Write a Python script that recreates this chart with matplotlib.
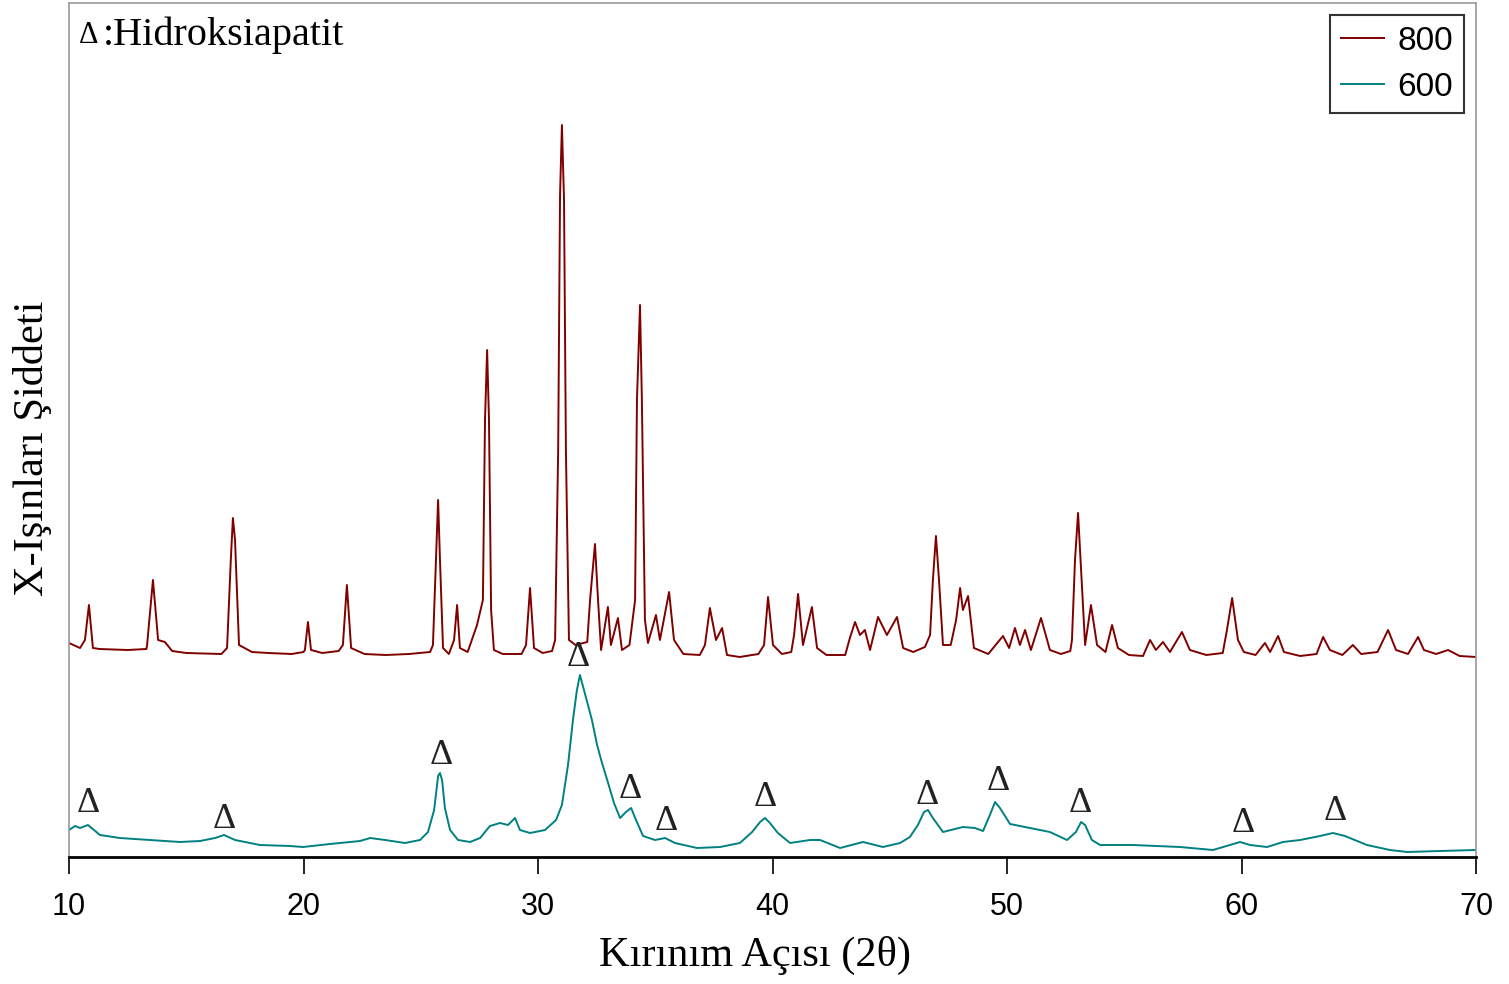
import matplotlib
matplotlib.use('Agg')
import matplotlib.pyplot as plt

# 800 C pattern (2theta, relative intensity)
tt_800 = [10.00, 10.47, 10.68, 10.85, 11.02, 11.3, 12.5, 13.3, 13.33, 13.58, 13.8, 14.09, 14.4,
          15.0, 16.5, 16.74, 16.9, 16.99, 17.08, 17.25, 17.8, 18.5, 19.5, 20.0,
          20.06, 20.19, 20.32, 20.8, 21.5, 21.68, 21.85, 22.03, 22.6, 23.5, 24.5, 25.4,
          25.52, 25.65, 25.74, 25.82, 25.95, 26.2, 26.42, 26.55, 26.67, 27.0, 27.4,
          27.65, 27.74, 27.83, 27.91, 28.0, 28.12, 28.5, 29.3, 29.49, 29.66, 29.83,
          30.2, 30.6, 30.73, 30.86, 30.94, 31.02, 31.11, 31.19, 31.32, 31.6, 32.1,
          32.22, 32.43, 32.56, 32.69, 32.98, 33.11, 33.41, 33.58, 33.9,
          34.14, 34.22, 34.35, 34.43, 34.56, 34.69, 35.03, 35.2, 35.59, 35.8, 36.2, 36.9,
          37.12, 37.33, 37.59, 37.85, 38.06, 38.6, 39.4, 39.64, 39.81, 40.02, 40.4, 40.8,
          40.92, 41.09, 41.3, 41.68, 41.9, 42.3, 43.1, 43.3, 43.52, 43.73, 43.94, 44.16,
          44.5, 44.88, 45.31, 45.57, 46.0, 46.5, 46.72, 46.84, 46.97, 47.1, 47.27, 47.6,
          47.83, 48.0, 48.12, 48.34, 48.59, 49.2, 49.83, 50.09, 50.34, 50.55, 50.77, 51.02,
          51.45, 51.83, 52.3, 52.7, 52.77, 52.9, 53.03, 53.16, 53.33, 53.58, 53.84, 54.2,
          54.48, 54.73, 55.2, 55.8, 56.1, 56.35, 56.65, 56.95, 57.46, 57.8, 58.5, 59.2,
          59.38, 59.6, 59.85, 60.1, 60.6, 61.0, 61.22, 61.56, 61.81, 62.5, 63.2, 63.48,
          63.77, 64.3, 64.75, 65.1, 65.8, 66.25, 66.59, 67.1, 67.53, 67.78, 68.3, 68.81,
          69.3, 70.0]
int_800 = [214, 209, 217, 252, 209, 208, 207, 208, 212, 277, 217, 215, 206,
           204, 203, 209, 297, 339, 317, 212, 205, 204, 203, 205,
           207, 235, 207, 204, 206, 212, 272, 209, 203, 202, 203, 205,
           212, 297, 357, 297, 209, 203, 217, 252, 209, 205, 232,
           257, 437, 507, 437, 247, 207, 203, 203, 212, 269, 209,
           204, 206, 217, 407, 662, 732, 657, 407, 217, 212, 215,
           257, 313, 257, 207, 250, 212, 239, 207, 212,
           257, 457, 552, 457, 237, 214, 242, 217, 265, 217, 203, 202,
           212, 249, 217, 229, 202, 200, 203, 212, 260, 212, 203, 205,
           222, 263, 212, 250, 209, 202, 202, 219, 235, 222, 227, 207,
           240, 222, 240, 209, 205, 210, 222, 277, 321, 277, 212, 212,
           237, 269, 247, 261, 209, 203, 221, 209, 229, 212, 227, 207,
           239, 207, 203, 206, 217, 297, 344, 287, 212, 252, 212, 205,
           232, 209, 202, 201, 217, 207, 215, 205, 225, 207, 202, 204,
           227, 259, 217, 205, 202, 214, 205, 221, 205, 201, 203, 220,
           207, 202, 212, 203, 205, 227, 207, 203, 220, 207, 203, 207,
           201, 200]

# 600 C pattern
tt_600 = [10.00, 10.26, 10.47, 10.81, 11.32, 12.17, 13.45, 14.73, 15.59, 16.23, 16.61, 17.08,
          18.14, 19.42, 19.98, 21.13, 22.41, 22.84, 23.48, 24.33, 24.97, 25.31, 25.57,
          25.74, 25.82, 25.91, 26.03, 26.25, 26.59, 27.10, 27.53, 27.95, 28.38, 28.72,
          29.02, 29.23, 29.66, 30.30, 30.77, 31.02, 31.28, 31.49, 31.66, 31.79, 31.96,
          32.13, 32.30, 32.52, 32.73, 32.99, 33.24, 33.50, 33.75, 33.97, 34.18, 34.48,
          34.99, 35.42, 35.84, 36.78, 37.76, 38.61, 39.13, 39.47, 39.68, 39.89, 40.23,
          40.75, 41.60, 42.03, 42.88, 43.86, 44.71, 45.44, 45.86, 46.20, 46.46, 46.63,
          46.84, 47.27, 48.12, 48.63, 48.98, 49.27, 49.49, 49.70, 50.13, 50.98, 51.83,
          52.56, 52.94, 53.16, 53.33, 53.62, 53.97, 55.37, 57.38, 58.78, 59.51, 59.94,
          60.36, 61.09, 61.77, 62.50, 63.35, 63.90, 64.41, 65.35, 66.33, 67.06, 68.47, 70.00]
int_600 = [27, 31, 29, 32, 22, 19, 17, 15, 16, 19, 22, 17,
           12, 11, 10, 13, 16, 19, 17, 14, 17, 25, 47,
           81, 84, 77, 49, 27, 17, 15, 19, 31, 34, 32,
           39, 27, 24, 27, 37, 52, 92, 137, 167, 182, 167,
           152, 137, 112, 94, 74, 54, 39, 45, 49, 37, 21,
           17, 19, 14, 9, 10, 14, 25, 35, 39, 34, 24,
           14, 17, 17, 9, 15, 10, 14, 20, 32, 45, 47,
           39, 25, 30, 29, 26, 42, 55, 49, 33, 29, 25,
           17, 25, 35, 32, 17, 12, 12, 10, 7, 12, 15,
           12, 10, 15, 17, 21, 24, 21, 12, 7, 5, 6, 7]

# hydroxyapatite markers
hap_tt = [10.81, 16.61, 25.86, 31.71, 33.92, 35.46, 39.68, 46.59, 49.62, 53.11, 60.06, 63.99]
hap_int = [54, 37, 102, 199, 67, 35, 60, 62, 75, 54, 34, 45]

series_labels = ['800', '600']
series_colors = ['#800000', '#008080']
xticks = [10, 20, 30, 40, 50, 60, 70]

serif = ['Liberation Serif', 'DejaVu Serif']
sans = ['Liberation Sans', 'DejaVu Sans']

fig = plt.figure(figsize=(15.09, 9.84), dpi=100)
ax = fig.add_axes([69 / 1509, 1 - 857 / 984, (1476 - 69) / 1509, (857 - 3) / 984])

ax.plot(tt_800, int_800, color=series_colors[0], lw=1.4, label=series_labels[0])
ax.plot(tt_600, int_600, color=series_colors[1], lw=1.4, label=series_labels[1])

for x, y in zip(hap_tt, hap_int):
    ax.text(x, y, 'Δ', family=serif, fontsize=26, ha='center', va='center', color='#222222')

ax.text(0.007, 0.962, 'Δ', transform=ax.transAxes, family=serif,
        fontsize=22, ha='left', va='center')
ax.text(0.024, 0.962, ':Hidroksiapatit', transform=ax.transAxes, family=serif,
        fontsize=29, ha='left', va='center')

ax.set_xlim(10, 70)
ax.set_ylim(0, 854)
ax.set_xticks(xticks)
ax.set_yticks([])
ax.tick_params(axis='x', direction='out', length=12, width=1.2, pad=13, labelsize=22)
for lab in ax.get_xticklabels():
    lab.set_family(sans)

for s in ['left', 'top', 'right']:
    ax.spines[s].set_color('#999999')
    ax.spines[s].set_linewidth(1.2)
ax.spines['bottom'].set_color('black')
ax.spines['bottom'].set_linewidth(2)

ax.set_xlabel('Kırınım Açısı (2θ)', family=serif, fontsize=30.5, va='top')
ax.xaxis.set_label_coords(0.4876, -0.092)
ax.set_ylabel('X-Işınları Şiddeti', family=serif, fontsize=30.5)
ax.yaxis.set_label_coords(-0.012, 0.479)

leg = ax.legend(loc='upper right', bbox_to_anchor=(1464 / 1509, 1 - 15 / 984),
                bbox_transform=fig.transFigure, borderaxespad=0, fancybox=False,
                edgecolor='black', prop={'family': sans, 'size': 24},
                handlelength=1.3, handletextpad=0.4, borderpad=0.32, labelspacing=0.45)
leg.get_frame().set_linewidth(1.5)

fig.savefig('out.png', dpi=100)
